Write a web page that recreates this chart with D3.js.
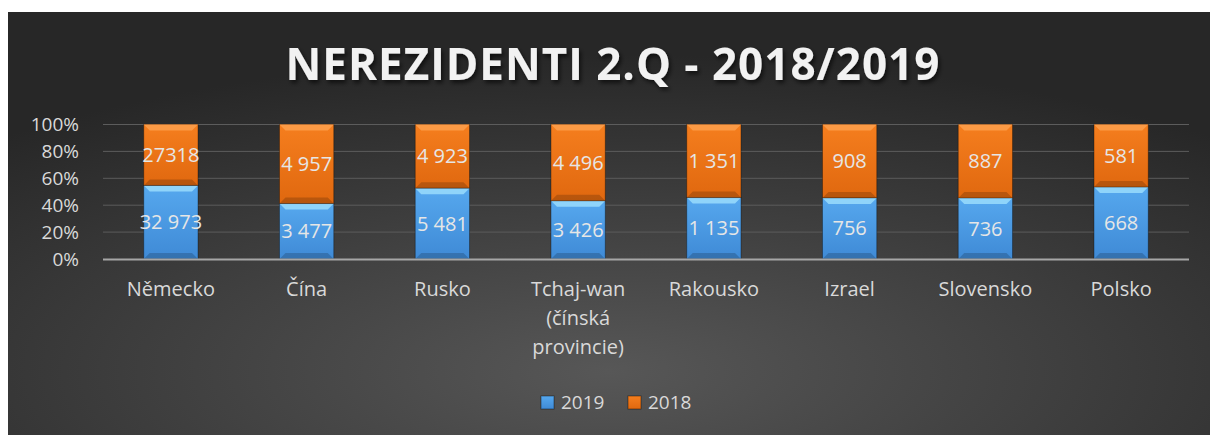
<!DOCTYPE html>
<html lang="cs">
<head>
    <meta charset="UTF-8">
    <script src="https://d3js.org/d3.v7.min.js"></script>
    <style>
        body { margin: 0; background: #fff; }
        svg { display: block; font-family: "Open Sans", sans-serif; }
    </style>
</head>
<body>
<div id="chart"></div>
<script>
    // data
    var categories = ["Německo", "Čína", "Rusko", "Tchaj-wan (čínská provincie)", "Rakousko", "Izrael", "Slovensko", "Polsko"];
    var catLines = [["Německo"], ["Čína"], ["Rusko"], ["Tchaj-wan", "(čínská", "provincie)"], ["Rakousko"], ["Izrael"], ["Slovensko"], ["Polsko"]];
    var values2019 = [32973, 3477, 5481, 3426, 1135, 756, 736, 668];
    var values2018 = [27318, 4957, 4923, 4496, 1351, 908, 887, 581];
    var labels2019 = ["32 973", "3 477", "5 481", "3 426", "1 135", "756", "736", "668"];
    var labels2018 = ["27318", "4 957", "4 923", "4 496", "1 351", "908", "887", "581"];
    var yTicks = [0, 0.2, 0.4, 0.6, 0.8, 1];
    var seriesNames = ["2019", "2018"];

    var width = 1210, height = 435;
    var plotLeft = 103, plotRight = 1189, plotTop = 124.5, plotBottom = 259;

    var svg = d3.select("#chart").append("svg")
        .attr("width", width)
        .attr("height", height);

    var defs = svg.append("defs");

    // background
    var bg = defs.append("radialGradient")
        .attr("id", "bg")
        .attr("cx", "50%").attr("cy", "85%").attr("r", "75%");
    bg.append("stop").attr("offset", "0%").attr("stop-color", "#575757");
    bg.append("stop").attr("offset", "100%").attr("stop-color", "#272727");

    var blueG = defs.append("linearGradient").attr("id", "blue").attr("x1", 0).attr("y1", 0).attr("x2", 0).attr("y2", 1);
    blueG.append("stop").attr("offset", "0%").attr("stop-color", "#56a8ee");
    blueG.append("stop").attr("offset", "100%").attr("stop-color", "#3f8ad6");
    var orangeG = defs.append("linearGradient").attr("id", "orange").attr("x1", 0).attr("y1", 0).attr("x2", 0).attr("y2", 1);
    orangeG.append("stop").attr("offset", "0%").attr("stop-color", "#f57e1e");
    orangeG.append("stop").attr("offset", "100%").attr("stop-color", "#e0680f");

    var shadow = defs.append("filter").attr("id", "tshadow").attr("x", "-10%").attr("y", "-20%").attr("width", "120%").attr("height", "160%");
    shadow.append("feDropShadow").attr("dx", 2).attr("dy", 3).attr("stdDeviation", 2).attr("flood-color", "#000").attr("flood-opacity", 0.6);

    svg.append("rect")
        .attr("x", 8).attr("y", 12)
        .attr("width", width - 8).attr("height", height - 12)
        .attr("fill", "url(#bg)");

    // title
    svg.append("text")
        .attr("x", 613).attr("y", 80)
        .attr("text-anchor", "middle")
        .attr("font-size", 44)
        .attr("font-weight", "bold")
        .attr("letter-spacing", 1)
        .attr("fill", "#f2f2f2")
        .attr("filter", "url(#tshadow)")
        .text("NEREZIDENTI 2.Q - 2018/2019");

    var x = d3.scaleBand()
        .domain(categories)
        .range([plotLeft, plotRight])
        .paddingInner(0.6)
        .paddingOuter(0.3);

    var y = d3.scaleLinear()
        .domain([0, 1])
        .range([plotBottom, plotTop]);

    // gridlines
    svg.append("g")
        .selectAll("line")
        .data(yTicks.slice(1))
        .enter().append("line")
        .attr("x1", plotLeft).attr("x2", plotRight)
        .attr("y1", function(d) { return y(d); })
        .attr("y2", function(d) { return y(d); })
        .attr("stroke", "#5c5c5c")
        .attr("stroke-width", 1);

    // y axis labels
    var yAxis = d3.axisLeft(y)
        .tickValues(yTicks)
        .tickFormat(d3.format(".0%"))
        .tickSize(0)
        .tickPadding(0);
    var ya = svg.append("g")
        .attr("transform", "translate(79,0)")
        .call(yAxis);
    ya.select(".domain").remove();
    ya.selectAll("text")
        .attr("font-size", 19)
        .attr("font-family", "Open Sans, sans-serif")
        .attr("fill", "#d9d9d9");

    // stacked data as shares
    var rows = categories.map(function(c, i) {
        var total = values2019[i] + values2018[i];
        return { cat: c, i: i, s2019: values2019[i] / total, s2018: values2018[i] / total };
    });

    var bars = svg.append("g").selectAll("g")
        .data(rows)
        .enter().append("g");

    function segment(sel, y0, y1, fill, hi) {
        var bw = x.bandwidth();
        sel.append("rect")
            .attr("x", function(d) { return x(d.cat); })
            .attr("y", function(d) { return y(y1(d)); })
            .attr("width", bw)
            .attr("height", function(d) { return y(y0(d)) - y(y1(d)); })
            .attr("fill", fill)
            .attr("stroke", "rgba(0,0,0,0.35)")
            .attr("stroke-width", 1);
        // bevel highlight at top of segment
        sel.append("path")
            .attr("d", function(d) {
                var x0 = x(d.cat), yy = y(y1(d));
                return "M" + x0 + "," + yy + "L" + (x0 + bw) + "," + yy +
                    "L" + (x0 + bw - 6) + "," + (yy + 6) + "L" + (x0 + 6) + "," + (yy + 6) + "Z";
            })
            .attr("fill", hi);
        // bottom shade
        sel.append("path")
            .attr("d", function(d) {
                var x0 = x(d.cat), yy = y(y0(d));
                return "M" + x0 + "," + yy + "L" + (x0 + bw) + "," + yy +
                    "L" + (x0 + bw - 6) + "," + (yy - 6) + "L" + (x0 + 6) + "," + (yy - 6) + "Z";
            })
            .attr("fill", "rgba(0,0,0,0.18)");
    }

    segment(bars, function() { return 0; }, function(d) { return d.s2019; }, "url(#blue)", "#8fd4fa");
    segment(bars, function(d) { return d.s2019; }, function() { return 1; }, "url(#orange)", "#fb9a45");

    // data labels
    bars.append("text")
        .attr("x", function(d) { return x(d.cat) + x.bandwidth() / 2; })
        .attr("y", function(d) { return y(d.s2019 / 2); })
        .attr("dy", "0.35em")
        .attr("text-anchor", "middle")
        .attr("font-size", 20)
        .attr("fill", "#e6e6e6")
        .text(function(d) { return labels2019[d.i]; });
    bars.append("text")
        .attr("x", function(d) { return x(d.cat) + x.bandwidth() / 2; })
        .attr("y", function(d) { return y((d.s2019 + 1) / 2); })
        .attr("dy", "0.35em")
        .attr("text-anchor", "middle")
        .attr("font-size", 20)
        .attr("fill", "#e6e6e6")
        .text(function(d) { return labels2018[d.i]; });

    // x axis line
    svg.append("line")
        .attr("x1", plotLeft).attr("x2", plotRight)
        .attr("y1", plotBottom + 0.5).attr("y2", plotBottom + 0.5)
        .attr("stroke", "#a6a6a6")
        .attr("stroke-width", 2);

    // category labels
    var cl = svg.append("g").selectAll("text")
        .data(categories)
        .enter().append("text")
        .attr("x", function(d) { return x(d) + x.bandwidth() / 2; })
        .attr("y", 296)
        .attr("text-anchor", "middle")
        .attr("font-size", 20)
        .attr("fill", "#d9d9d9");
    cl.each(function(d, i) {
        var t = d3.select(this);
        catLines[i].forEach(function(line, k) {
            t.append("tspan")
                .attr("x", x(d) + x.bandwidth() / 2)
                .attr("dy", k === 0 ? 0 : 29)
                .text(line);
        });
    });

    // legend
    var legend = svg.append("g");
    var legX = [541, 628];
    var fills = ["url(#blue)", "url(#orange)"];
    seriesNames.forEach(function(n, i) {
        legend.append("rect")
            .attr("x", legX[i]).attr("y", 396)
            .attr("width", 13).attr("height", 13)
            .attr("fill", fills[i])
            .attr("stroke", "rgba(0,0,0,0.4)");
        legend.append("text")
            .attr("x", legX[i] + 20).attr("y", 409)
            .attr("font-size", 19)
            .attr("fill", "#d9d9d9")
            .text(n);
    });
</script>
</body>
</html>
